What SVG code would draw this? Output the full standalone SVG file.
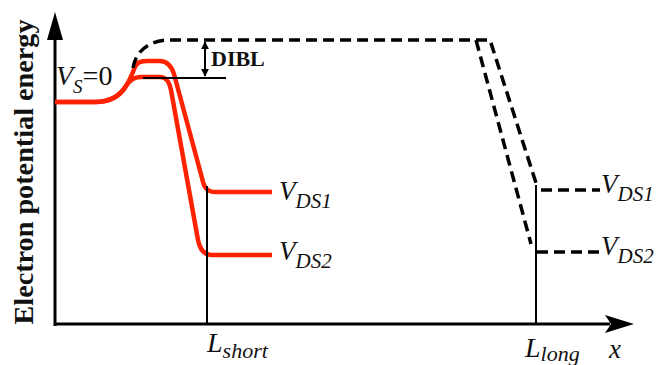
<svg xmlns="http://www.w3.org/2000/svg" width="662" height="365" viewBox="0 0 662 365">
<style>
.ax{stroke:#000;stroke-width:3;fill:none}
.thin{stroke:#000;stroke-width:2;fill:none}
.red{stroke:#ff2200;stroke-width:4.5;fill:none;stroke-linejoin:round}
.dash{stroke:#000;stroke-width:3.5;fill:none;stroke-dasharray:11,6}
.it{font-family:"Liberation Serif","Times New Roman",serif;font-style:italic;fill:#111}
.bd{font-family:"Liberation Serif","Times New Roman",serif;font-weight:bold;fill:#111}
</style>
<defs>
<marker id="ah" viewBox="0 0 10 10" refX="9" refY="5" markerWidth="4" markerHeight="4" orient="auto-start-reverse">
<path d="M0,0 L10,5 L0,10 Z" fill="#000"/>
</marker>
</defs>
<rect width="662" height="365" fill="#fff"/>
<g id="axes">
<line class="ax" x1="55" y1="326" x2="55" y2="36"/>
<polygon points="55,12 47,40 63,40" fill="#000"/>
<line class="ax" x1="54" y1="324" x2="610" y2="324"/>
<polygon points="634,324 605,315 611,324 605,333" fill="#000"/>
<text class="bd" font-size="28" text-anchor="middle" textLength="305" lengthAdjust="spacingAndGlyphs" transform="translate(33,172) rotate(-90)">Electron potential energy</text>
</g>
<g id="short-channel">
<path class="red" d="M55,102 L95,102 C110,102 120,96 126,86 C130,80 133,72 135,67 C137,62 141,61 148,61 L160,61 C167,61 171,65 174,74 L202,178 C204,188 207,192 216,192 L272,192"/>
<path class="red" d="M55,102 L95,102 C110,102 120,96 126,86 C130,80 134,77 140,77 L160,77 C166,77 169,81 171,90 L198,240 C200,250 204,255 212,255 L272,255"/>
<line class="thin" x1="207" y1="186" x2="207" y2="324"/>
<line class="thin" x1="143" y1="78" x2="226" y2="78"/>
</g>
<g id="long-channel">
<path class="dash" d="M133,68 C136,50 150,40 170,40 L476,40 L531,244"/>
<path class="dash" d="M476,40 L490,40 L537,186"/>
<path class="dash" d="M541,190 L600,190"/>
<path class="dash" d="M537,252 L600,252"/>
<line class="thin" x1="536" y1="185" x2="536" y2="324"/>
</g>
<g id="dibl">
<line x1="205" y1="42" x2="205" y2="76" stroke="#000" stroke-width="2" marker-start="url(#ah)" marker-end="url(#ah)"/>
<text class="bd" x="211" y="66" font-size="22">DIBL</text>
</g>
<g id="labels">
<text class="it" x="56" y="85" font-size="28">V<tspan font-size="19" dy="8">S</tspan><tspan font-style="normal" dy="-8">=0</tspan></text>
<text class="it" x="279" y="200" font-size="27">V<tspan font-size="21" dy="8">DS1</tspan></text>
<text class="it" x="279" y="260" font-size="27">V<tspan font-size="21" dy="8">DS2</tspan></text>
<text class="it" x="601" y="193" font-size="27">V<tspan font-size="21" dy="8">DS1</tspan></text>
<text class="it" x="601" y="255" font-size="27">V<tspan font-size="21" dy="8">DS2</tspan></text>
<text class="it" x="207" y="352" font-size="28">L<tspan font-size="22" dy="6">short</tspan></text>
<text class="it" x="525" y="357" font-size="28">L<tspan font-size="22" dy="4">long</tspan></text>
<text class="it" x="609" y="358" font-size="27">x</text>
</g>
</svg>
